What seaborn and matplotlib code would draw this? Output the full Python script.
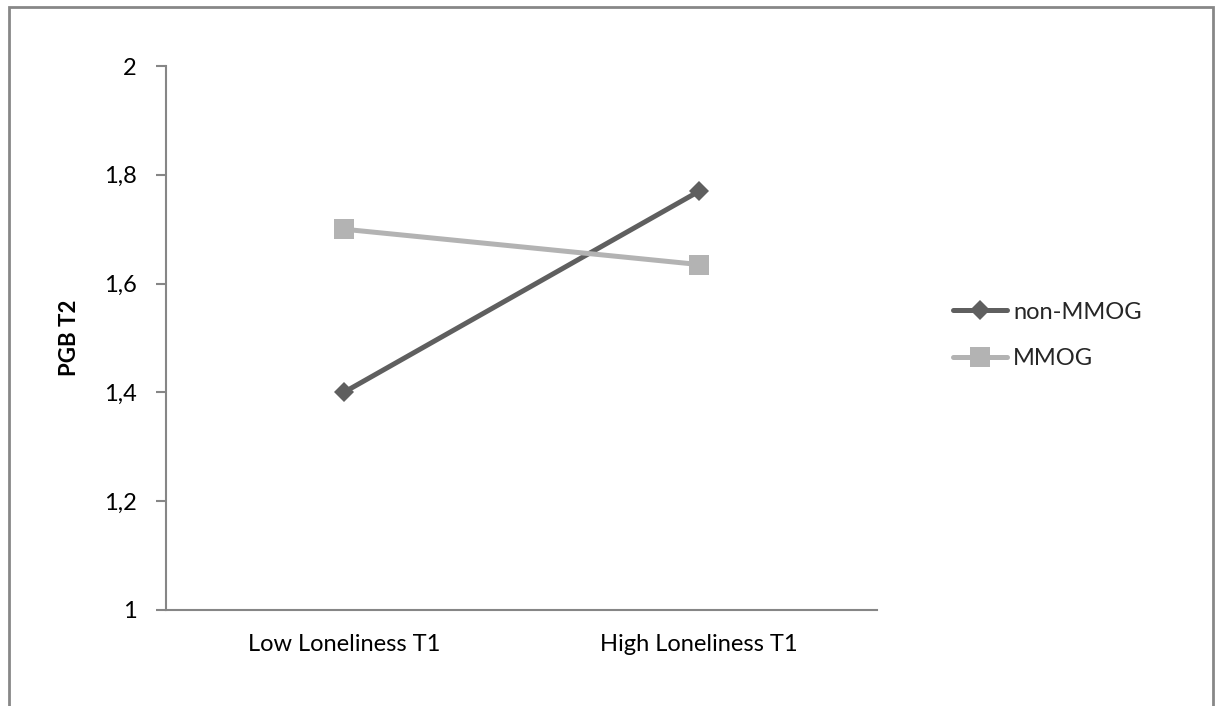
# Interaktion: Einsamkeit T1 x Spielertyp -> PGB T2
import pandas as pd
import matplotlib
matplotlib.use("Agg")
import matplotlib.pyplot as plt
from matplotlib.patches import Rectangle
import seaborn as sns

categories = ["Low Loneliness T1", "High Loneliness T1"]
groups = ["non-MMOG", "MMOG"]
non_mmog = [1.40, 1.77]
mmog = [1.70, 1.635]
y_ticks = [1, 1.2, 1.4, 1.6, 1.8, 2]
y_labels = ["1", "1,2", "1,4", "1,6", "1,8", "2"]

df = pd.DataFrame({
    "loneliness": categories * 2,
    "pgb": non_mmog + mmog,
    "group": [groups[0]] * 2 + [groups[1]] * 2,
})

sns.set_style("white")
plt.rcParams["font.family"] = ["Lato", "DejaVu Sans"]
fs = 17

fig = plt.figure(figsize=(12.15, 7.06), dpi=100)
ax = fig.add_axes([166 / 1215, 1 - 610 / 706, (877 - 166) / 1215, (610 - 66) / 706])

styles = {"non-MMOG": ("#5f5f5f", "D", 10.5), "MMOG": ("#b3b3b3", "s", 14)}
for g in groups:
    col, mk, ms = styles[g]
    sns.lineplot(data=df[df.group == g], x="loneliness", y="pgb", sort=False,
                 color=col, marker=mk, markersize=ms, markeredgewidth=0,
                 linewidth=3.6, label=g, ax=ax)

ax.set_xlim(-0.5, 1.5)
ax.set_ylim(1, 2)
ax.set_yticks(y_ticks)
ax.set_yticklabels(y_labels, fontsize=fs, color="black")
ax.set_xticks([0, 1])
ax.set_xticklabels(categories, fontsize=fs, color="black")
ax.set_xticks([-0.5, 0.5, 1.5], minor=True)
ax.tick_params(axis="x", which="major", length=0, pad=17)
ax.tick_params(axis="x", which="minor", length=7, width=1.5, color="#868686", direction="out")
ax.tick_params(axis="y", length=7, width=1.5, color="#868686", direction="out", left=True, pad=14)
ax.set_xlabel("")
ax.set_ylabel("PGB T2", fontsize=fs - 1, fontweight="bold", labelpad=17, color="black")

for s in ["top", "right"]:
    ax.spines[s].set_visible(False)
for s in ["left", "bottom"]:
    ax.spines[s].set_color("#868686")
    ax.spines[s].set_linewidth(1.5)

ax.legend(loc="center left", bbox_to_anchor=(953 / 1215, 1 - 335.5 / 706),
          bbox_transform=fig.transFigure, frameon=False, fontsize=fs,
          handlelength=2.3, handletextpad=0.25, labelspacing=1.1,
          borderpad=0, borderaxespad=0)

# Rahmen um das Diagramm (unten abgeschnitten)
fig.patches.append(Rectangle((9 / 1215, -0.05), (1213 - 9) / 1215, 1.05 - 7 / 706,
                             transform=fig.transFigure, fill=False,
                             edgecolor="#878787", linewidth=2))

fig.savefig("out.png", dpi=100)
